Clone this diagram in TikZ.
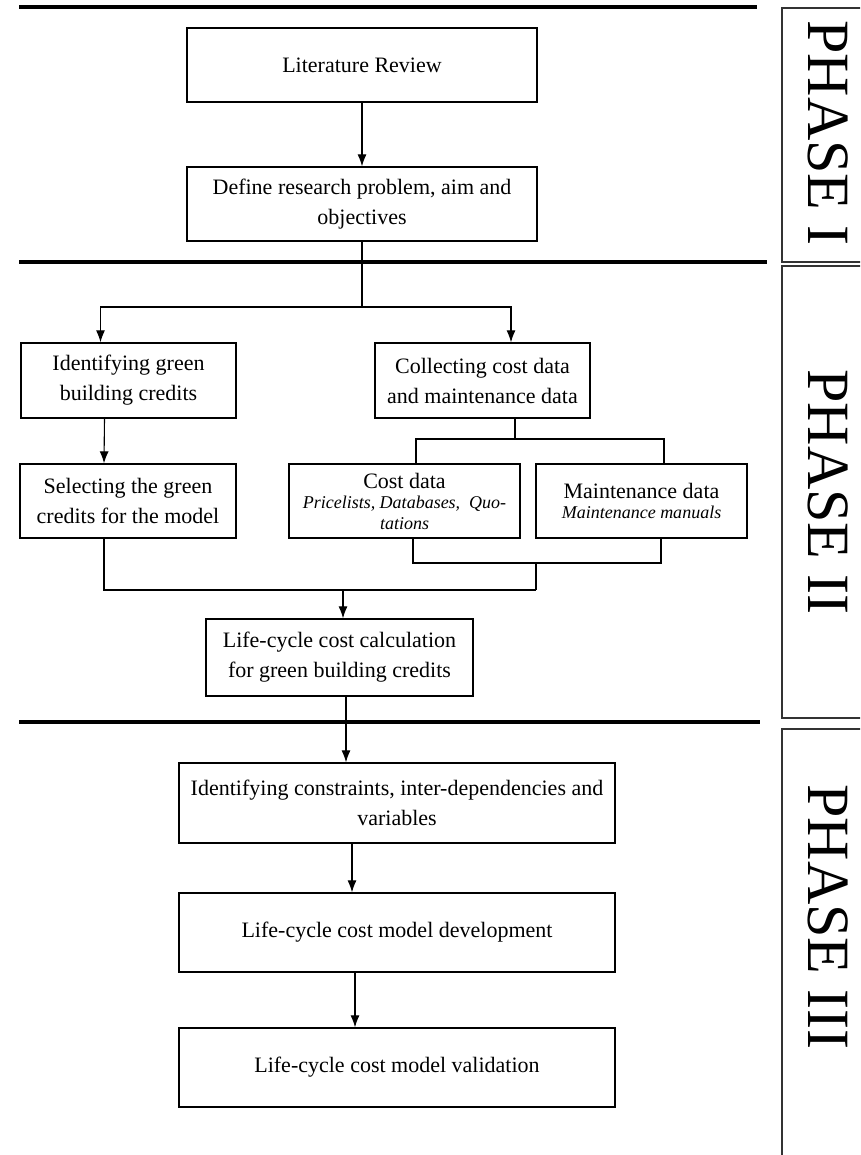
\documentclass[tikz,border=0pt]{standalone}
\usepackage{fontspec}
\setmainfont{Liberation Serif}
\usetikzlibrary{arrows.meta}

\begin{document}
\begin{tikzpicture}[x=1pt,y=-1pt,
    box/.style={draw,line width=1.3pt,align=center,inner sep=0pt,font=\fontsize{22}{30}\selectfont},
    arr/.style={line width=1.1pt,-{Latex[length=12pt,width=9pt]}},
    link/.style={line width=1.1pt},
    rule/.style={line width=4.5pt},
    phasebox/.style={draw=black!80,line width=1.3pt},
    phase/.style={rotate=-90,font=\fontsize{60}{60}\selectfont}]
  \useasboundingbox (0,0) rectangle (860,1155);
  \clip (0,0) rectangle (860,1155);

  \draw[rule] (19,7) -- (757,7);
  \draw[rule] (19,262) -- (767,262);
  \draw[rule] (19,722) -- (760,722);

  \draw[phasebox] (782,8) rectangle (880,262);
  \draw[phasebox] (782,266) rectangle (880,718);
  \draw[phasebox] (782,729) rectangle (880,1170);
  \node[phase] (p1) at (828,133) {PHASE I};
  \node[phase] (p2) at (828,492) {PHASE II};
  \node[phase] (p3) at (828,917) {PHASE III};

  \node[box,minimum width=350pt,minimum height=74pt] (lit) at (362,65) {Literature Review};
  \node[box,minimum width=350pt,minimum height=74pt] (def) at (362,204) {Define research problem, aim and\\objectives};
  \node[box,minimum width=215pt,minimum height=75pt] (idg) at (128.5,380.5) {Identifying green\\building credits};
  \node[box,minimum width=215pt,minimum height=75pt] (col) at (482.5,380.5) {Collecting cost data\\and maintenance data};
  \node[box,minimum width=216pt,minimum height=74pt] (sel) at (128,501) {Selecting the green\\credits for the model};
  \node[box,minimum width=231pt,minimum height=74pt] (cost) at (404.5,501)
    {Cost data\\[-10pt]\fontsize{18}{20}\selectfont\itshape Pricelists, Databases,\ \ Quo-\\[-9pt]\fontsize{18}{20}\selectfont\itshape tations};
  \node[box,minimum width=211pt,minimum height=74pt] (mnt) at (641.5,501)
    {Maintenance data\\[-10pt]\fontsize{18}{20}\selectfont\itshape Maintenance manuals};
  \node[box,minimum width=267pt,minimum height=77pt] (lcc) at (339.5,657.5) {Life-cycle cost calculation\\for green building credits};
  \node[box,minimum width=436pt,minimum height=80pt] (idc) at (397,803) {Identifying constraints, inter-dependencies and\\variables};
  \node[box,minimum width=436pt,minimum height=79pt] (dev) at (397,932.5) {Life-cycle cost model development};
  \node[box,minimum width=436pt,minimum height=79pt] (val) at (397,1067.5) {Life-cycle cost model validation};

  \draw[arr] (lit) -- (def);
  \coordinate (split) at (362,307);
  \draw[link] (def.south) -- (split);
  \draw[arr] (split) -| ([xshift=-28pt]idg.north);
  \draw[arr] (split) -| ([xshift=28.5pt]col.north);
  \draw[arr] ([xshift=-24pt]idg.south) -- ([xshift=-24pt]sel.north);

  \coordinate (colsplit) at (515,439);
  \draw[link] ([xshift=32.5pt]col.south) -- (colsplit);
  \draw[link] ([xshift=11.5pt]cost.north) |- (colsplit) -| ([xshift=22.5pt]mnt.north);

  \coordinate (join) at (536,563);
  \coordinate (merge) at (343,590);
  \draw[link] ([xshift=8.5pt]cost.south) |- (join) -| ([xshift=19.5pt]mnt.south);
  \draw[link] (join) -- (join |- merge);
  \draw[link] ([xshift=-24pt]sel.south) |- (join |- merge);
  \draw[arr] (merge) -- (merge |- lcc.north);

  \draw[arr] ([xshift=6.5pt]lcc.south) -- ([xshift=6.5pt]lcc.south |- idc.north);
  \draw[arr] ([xshift=-45pt]idc.south) -- ([xshift=-45pt]dev.north);
  \draw[arr] ([xshift=-42pt]dev.south) -- ([xshift=-42pt]val.north);
\end{tikzpicture}
\end{document}
